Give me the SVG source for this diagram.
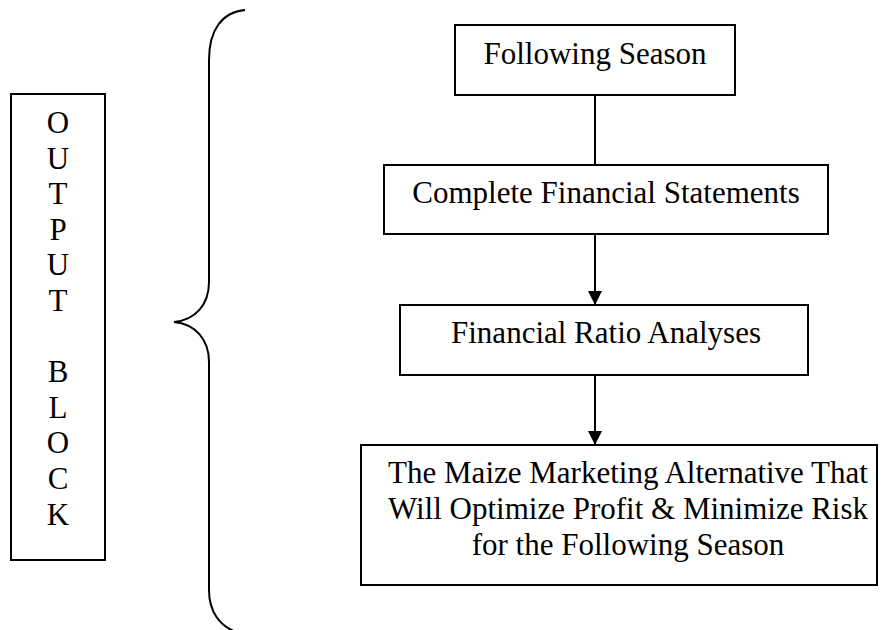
<svg xmlns="http://www.w3.org/2000/svg" width="887" height="630" viewBox="0 0 887 630">
<style>
.box{fill:#fff;stroke:#000;stroke-width:2}
.t{font-family:"Liberation Serif","Times New Roman",serif;font-size:31px;fill:#000;text-anchor:middle}
.c{stroke:#000;stroke-width:2;fill:none}
</style>
<defs>
<marker id="ah" markerWidth="14" markerHeight="14" viewBox="0 0 14 14" refX="14" refY="7" orient="auto" markerUnits="userSpaceOnUse">
<path d="M0,0 L14,7 L0,14 Z" fill="#000"/>
</marker>
</defs>
<rect width="887" height="630" fill="#fff"/>
<g id="output-block">
<rect class="box" x="11" y="94" width="94" height="466"/>
<text class="t" x="58" y="133">O</text>
<text class="t" x="58" y="168.6">U</text>
<text class="t" x="58" y="204.2">T</text>
<text class="t" x="58" y="239.8">P</text>
<text class="t" x="58" y="275.4">U</text>
<text class="t" x="58" y="311">T</text>
<text class="t" x="58" y="382.2">B</text>
<text class="t" x="58" y="417.8">L</text>
<text class="t" x="58" y="453.4">O</text>
<text class="t" x="58" y="489">C</text>
<text class="t" x="58" y="524.6">K</text>
</g>
<g id="brace">
<path class="c" d="M245,10 C222,12 209,30 209,60 L209,282 C209,305 195,320 174,322 C195,324 209,339 209,362 L209,590 C209,612 220,626 236,632"/>
</g>
<g id="following-season">
<rect class="box" x="455" y="25" width="280" height="70"/>
<text class="t" x="595" y="64">Following Season</text>
</g>
<g id="complete-financial-statements">
<rect class="box" x="384" y="165" width="444" height="69"/>
<text class="t" x="606" y="203">Complete Financial Statements</text>
</g>
<g id="financial-ratio-analyses">
<rect class="box" x="400" y="305" width="408" height="70"/>
<text class="t" x="606" y="343">Financial Ratio Analyses</text>
</g>
<g id="maize-marketing-alternative">
<rect class="box" x="361" y="445" width="516" height="140"/>
<text class="t" x="628" y="483">The Maize Marketing Alternative That</text>
<text class="t" x="628" y="519">Will Optimize Profit &amp; Minimize Risk</text>
<text class="t" x="628" y="555">for the Following Season</text>
</g>
<g id="connectors">
<line class="c" x1="595" y1="95" x2="595" y2="165"/>
<line class="c" x1="595" y1="234" x2="595" y2="305" marker-end="url(#ah)"/>
<line class="c" x1="595" y1="375" x2="595" y2="445" marker-end="url(#ah)"/>
</g>
</svg>
